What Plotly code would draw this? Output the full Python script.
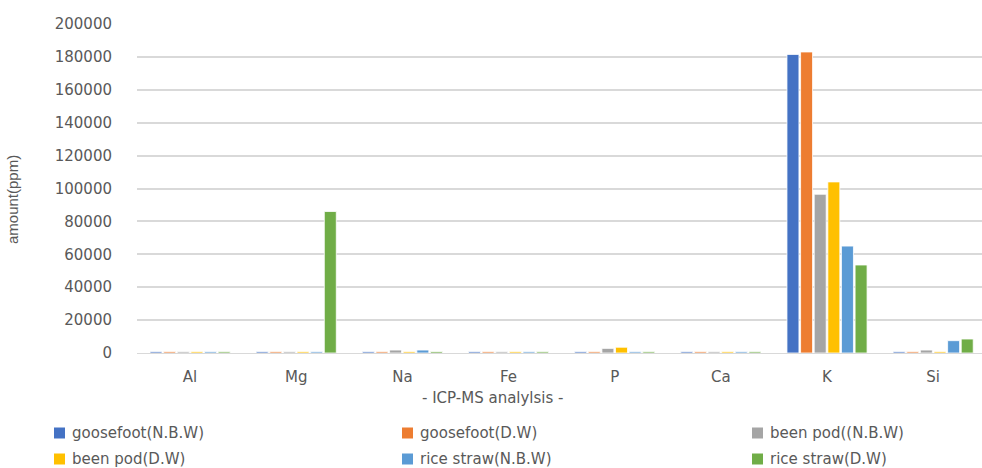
import plotly.graph_objects as go

categories = ["Al", "Mg", "Na", "Fe", "P", "Ca", "K", "Si"]
series_names = ["goosefoot(N.B.W)", "goosefoot(D.W)", "been pod((N.B.W)",
                "been pod(D.W)", "rice straw(N.B.W)", "rice straw(D.W)"]
goosefoot_nbw = [800, 800, 800, 800, 800, 800, 181500, 800]
goosefoot_dw = [800, 800, 800, 800, 800, 800, 183000, 800]
beenpod_nbw = [800, 800, 1800, 800, 2800, 800, 96500, 1800]
beenpod_dw = [800, 800, 800, 800, 3500, 800, 104000, 800]
ricestraw_nbw = [800, 800, 1800, 800, 800, 800, 65000, 7500]
ricestraw_dw = [800, 86000, 900, 800, 800, 800, 53500, 8500]
y_ticks = [0, 20000, 40000, 60000, 80000, 100000, 120000, 140000, 160000, 180000, 200000]
colors = ["#4472C4", "#ED7D31", "#A5A5A5", "#FFC000", "#5B9BD5", "#70AD47"]

values = [goosefoot_nbw, goosefoot_dw, beenpod_nbw, beenpod_dw, ricestraw_nbw, ricestraw_dw]

font_family = "DejaVu Sans, Liberation Sans, sans-serif"
grey = "#595959"
fs = 15

W, H = 982, 468
L, R, T, B = 137, 0, 24, 115
PW = W - L - R
PH = H - T - B


def px_x(px):
    return (px - L) / PW


def px_y(py):
    return (H - B - py) / PH


fig = go.Figure()
for name, vals, c in zip(series_names, values, colors):
    fig.add_trace(go.Bar(
        x=categories, y=vals, name=name, showlegend=False,
        marker=dict(color=c, line=dict(color="white", width=0.8)),
    ))

annotations = [
    dict(text="- ICP-MS analylsis -", xref="paper", yref="paper",
         x=px_x(493), y=px_y(398), xanchor="center", yanchor="middle",
         showarrow=False, font=dict(size=fs, color=grey)),
    dict(text="amount(ppm)", xref="paper", yref="paper",
         x=px_x(12), y=px_y(200), xanchor="center", yanchor="middle",
         textangle=-90, showarrow=False,
         font=dict(size=15, color=grey, family="Liberation Sans Narrow, Liberation Sans, sans-serif")),
]
shapes = []
# legend: 2 rows x 3 columns
col_sq = [54, 402, 752]
row_y = [433, 459]
for i, (name, c) in enumerate(zip(series_names, colors)):
    r, k = divmod(i, 3)
    x0 = col_sq[k]
    yc = row_y[r]
    shapes.append(dict(type="rect", xref="paper", yref="paper",
                       x0=px_x(x0), x1=px_x(x0 + 11), y0=px_y(yc + 5.5), y1=px_y(yc - 5.5),
                       fillcolor=c, line=dict(width=0)))
    annotations.append(dict(text=name, xref="paper", yref="paper",
                            x=px_x(x0 + 16), y=px_y(yc), xanchor="left", yanchor="middle",
                            showarrow=False, font=dict(size=fs, color=grey)))

fig.update_layout(
    width=W, height=H,
    paper_bgcolor="white", plot_bgcolor="white",
    barmode="group", bargap=0.23, bargroupgap=0.12,
    margin=dict(l=L, r=R, t=T, b=B, autoexpand=False),
    font=dict(family=font_family, color=grey, size=fs),
    showlegend=False,
    xaxis=dict(
        type="category", range=[-0.5, 7.46],
        showgrid=False, showline=True, linecolor="#d9d9d9", linewidth=1,
        ticks="", tickfont=dict(size=fs, color=grey), ticklabelstandoff=10,
    ),
    yaxis=dict(
        range=[0, 200000], tickvals=y_ticks, ticktext=[str(v) for v in y_ticks],
        showgrid=True, gridcolor="#d9d9d9", gridwidth=1.5,
        zeroline=False, showline=False, ticks="",
        tickfont=dict(size=fs, color=grey), ticklabelstandoff=24,
    ),
    annotations=annotations,
    shapes=shapes,
)

fig.write_html(
    "out.html",
    config={"displayModeBar": False},
    post_script="document.body.style.margin='0';document.body.style.overflow='hidden';",
)
